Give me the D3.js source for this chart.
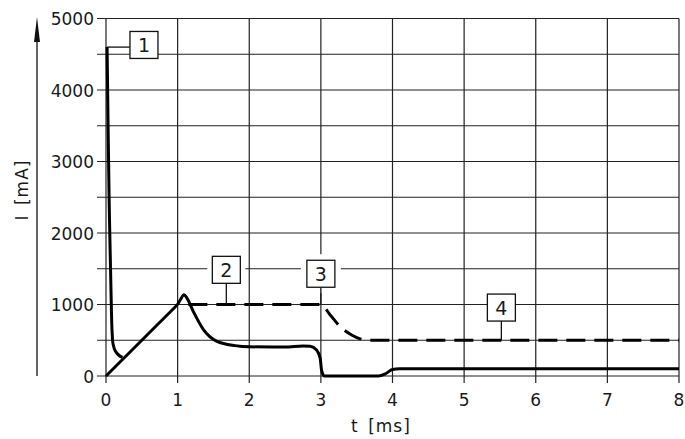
<!DOCTYPE html>
<html>
<head>
<meta charset="utf-8">
<script src="https://cdn.jsdelivr.net/npm/d3@7"></script>
<style>
    body { margin: 0; background: #fff; }
    text { font-family: "DejaVu Sans", sans-serif; fill: #1a1a1a; }
</style>
</head>
<body>
<div id="chart"></div>
<script>
// time axis in ms, current in mA
const tTicks = [0, 1, 2, 3, 4, 5, 6, 7, 8];
const iTicks = [0, 1000, 2000, 3000, 4000, 5000];
const iGrid = [0, 500, 1000, 1500, 2000, 2500, 3000, 3500, 4000, 4500, 5000];

// curve 1: inrush spike
const inrush = [
    [0.015, 4600], [0.045, 2400], [0.074, 1000], [0.085, 620],
    [0.1, 440], [0.13, 350], [0.18, 290], [0.23, 260]
];

// straight ramp up to 1 ms
const ramp = [[0, 0], [1.0, 1000]];

// solid curve after the ramp: peak, hold, drop, idle
const solid = [
    [1.0, 1000], [1.04, 1070], [1.09, 1135], [1.13, 1090],
    [1.22, 900], [1.36, 650], [1.55, 485], [1.8, 425], [2.0, 408],
    [2.5, 405], [2.75, 420], [2.85, 415], [2.94, 364], [2.99, 250],
    [3.01, 80], [3.05, 0], [3.8, 0], [3.9, 30], [4.0, 90], [4.1, 100], [8, 100]
];

// dashed curve: hold at 1000, fall to 500
const dashed = [
    [1.15, 1000], [3.0, 1000], [3.13, 854], [3.27, 690],
    [3.43, 574], [3.55, 520], [3.65, 500], [8, 500]
];

// callouts: label, anchor (t, I), box centre (t, I)
const callouts = [
    { n: "1", at: [0.015, 4600], box: [0.53, 4630], side: "left", pad: 0 },
    { n: "2", at: [1.68, 1000], box: [1.68, 1485], side: "bottom", pad: 5 },
    { n: "3", at: [3.0, 1000], box: [3.0, 1430], side: "bottom", pad: 6 },
    { n: "4", at: [5.52, 500], box: [5.52, 957], side: "bottom", pad: 0 }
];

function drawChart() {
    const W = 685, H = 439;

    let svg = d3.select("#chart").
    append("svg").
    attr("width", W).
    attr("height", H);

    let x = d3.scaleLinear().domain([0, 8]).range([106, 679]);
    let y = d3.scaleLinear().domain([0, 5000]).range([376, 18.5]);

    // grid
    svg.append("g").
    selectAll("line").
    data(tTicks).
    enter().
    append("line").
    attr("x1", d => x(d)).attr("x2", d => x(d)).
    attr("y1", y(5000)).attr("y2", y(0) + 7).
    attr("stroke", "#222").attr("stroke-width", 1.2);

    svg.append("g").
    selectAll("line").
    data(iGrid).
    enter().
    append("line").
    attr("x1", x(0) - 9).attr("x2", x(8)).
    attr("y1", d => y(d)).attr("y2", d => y(d)).
    attr("stroke", "#222").attr("stroke-width", 1.2);

    // tick labels
    svg.append("g").
    selectAll("text").
    data(iTicks).
    enter().
    append("text").
    attr("x", x(0) - 12).
    attr("y", d => y(d) + 6.5).
    attr("text-anchor", "end").
    attr("font-size", 17).
    text(d => d);

    svg.append("g").
    selectAll("text").
    data(tTicks).
    enter().
    append("text").
    attr("x", d => x(d)).
    attr("y", 406).
    attr("text-anchor", "middle").
    attr("font-size", 17).
    text(d => d);

    // axis titles
    svg.append("text").
    attr("x", 381).attr("y", 432).
    attr("text-anchor", "middle").
    attr("font-size", 17).
    attr("letter-spacing", 1).
    attr("word-spacing", 3).
    text("t [ms]");

    svg.append("text").
    attr("transform", "translate(28,190) rotate(-90)").
    attr("text-anchor", "middle").
    attr("font-size", 17).
    attr("letter-spacing", 1).
    attr("word-spacing", 3).
    text("I [mA]");

    // y arrow
    svg.append("line").
    attr("x1", 37).attr("x2", 37).
    attr("y1", 376).attr("y2", 30).
    attr("stroke", "#111").attr("stroke-width", 1.3);
    svg.append("path").
    attr("d", "M37,17 L40,42 L34,42 Z").
    attr("fill", "#111");

    // callout halos to cut grid lines
    callouts.forEach(c => {
        let cx = x(c.box[0]), cy = y(c.box[1]);
        svg.append("rect").
        attr("x", cx - 14 - c.pad).attr("y", cy - 13.5 - c.pad).
        attr("width", 28 + 2 * c.pad).attr("height", 27 + 2 * c.pad).
        attr("fill", "#fff");
    });

    let line = d3.line().
    x(d => x(d[0])).
    y(d => y(d[1])).
    curve(d3.curveMonotoneX);

    let smooth = d3.line().
    x(d => x(d[0])).
    y(d => y(d[1])).
    curve(d3.curveCatmullRom.alpha(0.5));

    let straight = d3.line().
    x(d => x(d[0])).
    y(d => y(d[1]));

    let thick = (sel, d) => sel.
    attr("d", d).
    attr("fill", "none").
    attr("stroke", "#000").
    attr("stroke-width", 3).
    attr("stroke-linejoin", "round");

    thick(svg.append("path"), line(dashed)).
    attr("stroke-linejoin", null).
    attr("stroke-dasharray", "19,9");

    thick(svg.append("path"), straight(ramp));
    thick(svg.append("path"), line(solid));
    thick(svg.append("path"), smooth(inrush));

    // callouts
    callouts.forEach(c => {
        let cx = x(c.box[0]), cy = y(c.box[1]);
        let ax = x(c.at[0]), ay = y(c.at[1]);
        if (c.side === "left") {
            svg.append("line").
            attr("x1", ax).attr("x2", cx - 14).
            attr("y1", ay).attr("y2", ay).
            attr("stroke", "#111").attr("stroke-width", 1.3);
        } else {
            svg.append("line").
            attr("x1", cx).attr("x2", ax).
            attr("y1", cy + 13.5).attr("y2", ay).
            attr("stroke", "#111").attr("stroke-width", 1.3);
        }
        svg.append("rect").
        attr("x", cx - 14).attr("y", cy - 13.5).
        attr("width", 28).attr("height", 27).
        attr("fill", "#fff").
        attr("stroke", "#111").attr("stroke-width", 1.3);
        svg.append("text").
        attr("x", cx).attr("y", cy + 7).
        attr("text-anchor", "middle").
        attr("font-size", 19).
        text(c.n);
    });
}

drawChart();
</script>
</body>
</html>
